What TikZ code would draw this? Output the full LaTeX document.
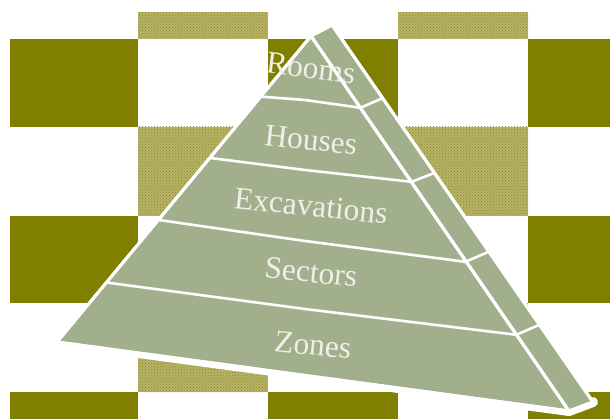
\documentclass[tikz,border=0pt]{standalone}
\usepackage{fontspec}
\setmainfont{Liberation Serif}
\usetikzlibrary{patterns}
\definecolor{darkolive}{RGB}{128,128,0}
\definecolor{hatchbase}{RGB}{184,180,100}
\definecolor{hatchdot}{RGB}{132,130,52}
\definecolor{pyr}{RGB}{161,175,140}
\definecolor{txt}{RGB}{238,240,232}
\tikzset{
  darkcell/.style={fill=darkolive},
  hatchcell/.style={fill=hatchbase, postaction={pattern=crosshatch dots, pattern color=hatchdot}},
  divider/.style={draw=white, line width=2.6pt, line cap=round, line join=round},
  label/.style={text=txt, font=\fontsize{31.5}{36}\selectfont, inner sep=0pt},
}
\begin{document}
\begin{tikzpicture}[x=1pt,y=-1pt]
\useasboundingbox[fill=white] (0,0) rectangle (610,419);
% checkerboard
\foreach \xa/\xb in {10/138, 268/398, 528/610}{
  \foreach \ya/\yb in {39/127, 216/303, 392/419}{
    \path[darkcell] (\xa,\ya) rectangle (\xb,\yb);
  }
}
\foreach \xa/\xb in {138/268, 398/528}{
  \foreach \ya/\yb in {12/39, 127/216, 303/392}{
    \path[hatchcell] (\xa,\ya) rectangle (\xb,\yb);
  }
}
% pyramid corners
\coordinate (A) at (311,36);
\coordinate (B) at (57,342);
\coordinate (C) at (569,411);
\coordinate (D) at (332,25);
\coordinate (E) at (593,402);
% white shadow under the bottom
\draw[white, line width=10pt, line cap=round] (B) -- (C) -- (E);
% faces
\path[fill=pyr, draw=white, line width=3pt, line join=round] (A) -- (B) -- (C) -- cycle;
\path[fill=pyr, draw=white, line width=3pt, line join=round] (A) -- (D) -- (E) -- (C) -- cycle;
% dividers on the front face
\begin{scope}
  \clip (A) -- (B) -- (C) -- cycle;
  \draw[divider] (240,95) -- (305,100) -- (362,108);
  \draw[divider] (195,156) -- (305,170) -- (413,182);
  \draw[divider] (145,218) -- (305,241) -- (467,262);
  \draw[divider] (95,281) -- (305,309) -- (518,335);
\end{scope}
% dividers on the side face
\begin{scope}
  \clip (A) -- (D) -- (E) -- (C) -- cycle;
  \draw[divider] (360,108) -- (392,94);
  \draw[divider] (411,182) -- (442,170);
  \draw[divider] (465,262) -- (495,249);
  \draw[divider] (516,335) -- (548,321);
\end{scope}
% ridge and outline on top
\draw[white, line width=3pt, line cap=round] (A) -- (C);
\draw[white, line width=3pt, line join=round] (A) -- (D) -- (E) -- (C) -- (B) -- cycle;
% labels
\node[label, rotate=-7] (rooms) at (311,68) {Rooms};
\node[label, rotate=-6] (houses) at (311,140) {Houses};
\node[label, rotate=-6] (excavations) at (311,206) {Excavations};
\node[label, rotate=-6] (sectors) at (311,272) {Sectors};
\node[label, rotate=-6] (zones) at (313,345) {Zones};
\end{tikzpicture}
\end{document}
